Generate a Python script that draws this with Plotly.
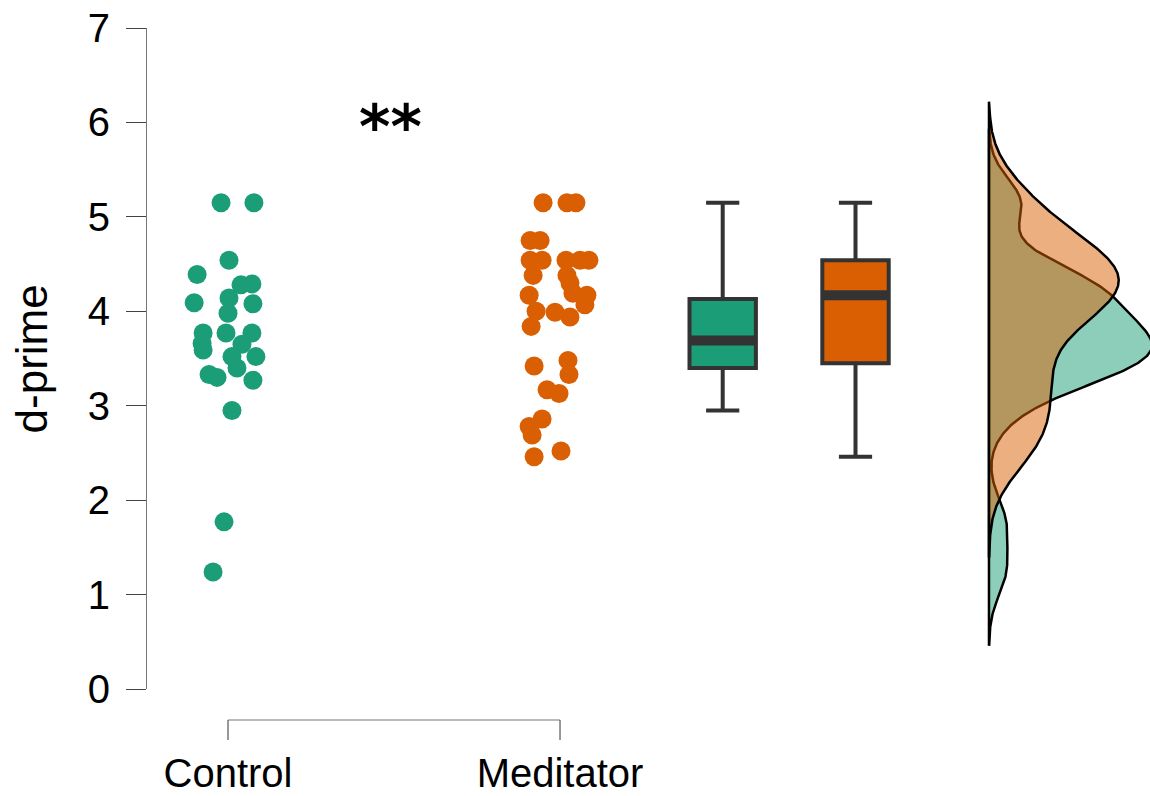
import numpy as np
import plotly.graph_objects as go

# ---------------- data ----------------
categories = ["Control", "Meditator"]

control_values = [5.15, 5.15, 4.54, 4.39, 4.28, 4.29, 4.08, 4.09, 4.14, 3.98,
                  3.77, 3.66, 3.59, 3.77, 3.77, 3.65, 3.52, 3.52, 3.40, 3.33,
                  3.30, 3.27, 2.95, 1.77, 1.24]
control_jitter = [-0.021, 0.078, 0.003, -0.093, 0.039, 0.072, 0.075, -0.102, 0.003, 0.0,
                  -0.075, -0.078, -0.075, -0.006, 0.072, 0.042, 0.012, 0.084, 0.027, -0.057,
                  -0.033, 0.075, 0.012, -0.012, -0.045]

meditator_values = [5.15, 5.15, 5.15, 4.75, 4.75, 4.54, 4.54, 4.54, 4.54, 4.54,
                    4.38, 4.38, 4.30, 4.17, 4.19, 4.17, 4.07, 4.00, 3.99, 3.94,
                    3.84, 3.42, 3.48, 3.33, 3.17, 3.13, 2.86, 2.78, 2.69, 2.46, 2.52]
meditator_jitter = [-0.051, 0.021, 0.048, -0.090, -0.060, -0.090, -0.054, 0.018, 0.060, 0.087,
                    -0.081, 0.021, 0.030, -0.093, 0.039, 0.081, 0.075, -0.072, -0.015, 0.030,
                    -0.087, -0.078, 0.024, 0.027, -0.039, -0.003, -0.054, -0.093, -0.084, -0.078, 0.003]

# boxplot statistics (as drawn, outliers hidden)
box_lower = [2.95, 2.46]
box_q1 = [3.40, 3.45]
box_median = [3.69, 4.17]
box_q3 = [4.13, 4.54]
box_upper = [5.15, 5.15]

y_ticks = [0, 1, 2, 3, 4, 5, 6, 7]
signif_label = "**"

# ---------------- styles ----------------
colors = ["#1b9e77", "#d95f02"]
fills = ["rgba(27,158,119,0.5)", "rgba(217,95,2,0.5)"]
FONT = "Liberation Sans, Arial, sans-serif"
box_pos = [2.49, 2.89]
box_w = 0.2
dens_base = 3.292
dens_scale = 0.76


def kde(vals):
    v = np.asarray(vals, dtype=float)
    n = len(v)
    sd = v.std(ddof=1)
    q75, q25 = np.percentile(v, [75, 25])
    bw = 0.9 * min(sd, (q75 - q25) / 1.34) * n ** (-0.2)
    grid = np.linspace(v.min() - 3 * bw, v.max() + 3 * bw, 512)
    d = np.exp(-0.5 * ((grid[:, None] - v[None, :]) / bw) ** 2).sum(1) / (n * bw * np.sqrt(2 * np.pi))
    return grid, d


fig = go.Figure()

# densities (green first, orange on top)
for vals, fc in [(control_values, fills[0]), (meditator_values, fills[1])]:
    g, d = kde(vals)
    xs = list(dens_base + d * dens_scale) + [dens_base, dens_base]
    ys = list(g) + [g[-1], g[0]]
    fig.add_trace(go.Scatter(x=xs, y=ys, mode="lines", fill="toself", fillcolor=fc,
                             line=dict(color="black", width=2.5), hoverinfo="skip",
                             showlegend=False))

# jittered points
for i, (vals, jit) in enumerate([(control_values, control_jitter), (meditator_values, meditator_jitter)]):
    fig.add_trace(go.Scatter(x=[i + 1 + j for j in jit], y=vals, mode="markers",
                             marker=dict(color=colors[i], size=19, line=dict(width=0)),
                             showlegend=False, name=categories[i]))

# boxplots
for i in range(2):
    fig.add_trace(go.Box(x=[box_pos[i]], q1=[box_q1[i]], median=[box_median[i]], q3=[box_q3[i]],
                         lowerfence=[box_lower[i]], upperfence=[box_upper[i]],
                         width=box_w, whiskerwidth=0.5, fillcolor=colors[i],
                         line=dict(color="#333333", width=4), boxpoints=False,
                         showlegend=False, name=categories[i]))
    fig.add_trace(go.Scatter(x=[box_pos[i] - box_w / 2, box_pos[i] + box_w / 2],
                             y=[box_median[i], box_median[i]], mode="lines",
                             line=dict(color="#333333", width=10), showlegend=False,
                             hoverinfo="skip"))

# significance stars
fig.add_annotation(x=1.49, y=5.95, xref="x", yref="y", text="<b>%s</b>" % signif_label,
                   showarrow=False, yanchor="middle",
                   font=dict(size=60, family="DejaVu Sans", color="black"))

# y title
fig.add_annotation(x=-0.1147, y=0.5, xref="paper", yref="paper", text="d-prime",
                   textangle=-90, showarrow=False, xanchor="center", yanchor="middle",
                   font=dict(size=44, family=FONT, color="black"))

# x bracket axis
yb1, yb2 = -31 / 661, -51 / 661
fig.add_shape(type="line", xref="x", yref="paper", x0=1, x1=2, y0=yb1, y1=yb1,
              line=dict(color="#777777", width=1.2))
for xc in [1, 2]:
    fig.add_shape(type="line", xref="x", yref="paper", x0=xc, x1=xc, y0=yb1, y1=yb2,
                  line=dict(color="#555555", width=1.2))

fig.update_layout(
    width=1150, height=796, autosize=False,
    margin=dict(l=147, r=0, t=28, b=107, autoexpand=False),
    plot_bgcolor="white", paper_bgcolor="white",
    font=dict(family=FONT, color="black"),
    xaxis=dict(range=[0.756, 3.777], showgrid=False, zeroline=False, showline=False,
               tickvals=[1, 2], ticktext=categories, ticks="", automargin=False,
               tickfont=dict(size=40), ticklabelstandoff=57, ticklabeloverflow="allow"),
    yaxis=dict(range=[0, 7], tickvals=y_ticks, showgrid=False, zeroline=False,
               showline=True, linecolor="#777777", linewidth=1.2, automargin=False,
               ticks="outside", ticklen=20, tickcolor="#444444", tickwidth=1.2,
               tickfont=dict(size=40), ticklabelstandoff=8, ticklabeloverflow="allow"),
)

fig.write_html("out.html", config={"displayModeBar": False},
               post_script="document.body.style.margin='0';document.body.style.overflow='hidden';")
